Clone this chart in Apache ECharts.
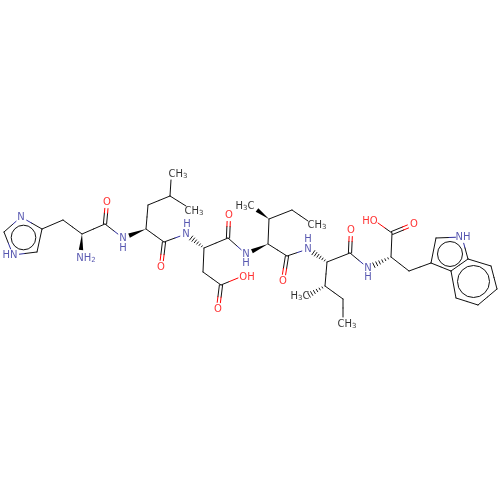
<!DOCTYPE html>
<html><head><meta charset="utf-8">
<style>html,body{margin:0;padding:0;background:#fff}#c{width:500px;height:500px}</style>
<script src="https://cdn.jsdelivr.net/npm/echarts@6/dist/echarts.min.js"></script>
</head><body><div id="c"></div>
<script>
// atom name, x, y
const atomNames = ['Ni','Ci','Nh','Cj','Ck','Cb1','Ca1','N1','C1','O1','Nb2','Ca2','Cb2','Cg2','Me1','Me2','C2','O2','Nb3','Ca3','Cb3','Cg3','Od3','Oh3','C3','O3','Nb4','Ca4','Cb4','Me3','Cg4','Me4','C4','O4','Nb5','Ca5','Cb5','Me5','Cg5','Me6','C5','O5','Nb6','Ca6','C6','O6','Oh6','Cb6','I3','I2','In','I7a','I3a','I4','I5','I6','I7'];
const atomX = [21,4,13,37,42,63,82,81,105,107,123,146,148,170,171,186,164,161,186,204,203,221,218,238,228,229,246,268,269,257,292,308,287,283,308,327,325,309,343,343,350,351,368,391,392,414,378,409,431,436,462,468,451,456,478,497,491];
const atomY = [217,232,255,252,229,220,234,250,224,202,238,229,205,196,180,206,242,267,234,248,272,285,309,278,238,215,254,244,219,210,210,221,256,281,249,262,286,295,299,317,253,230,268,257,233,224,223,271,263,238,237,259,271,298,305,289,266];
// connections between atoms
const singleBonds = [['Ni','Ci'],['Ci','Nh'],['Nh','Cj'],['Cj','Ck'],['Ck','Ni'],['Ck','Cb1'],['Cb1','Ca1'],['Ca1','C1'],['C1','Nb2'],['Ca2','Cb2'],['Cb2','Cg2'],['Cg2','Me1'],['Cg2','Me2'],['Ca2','C2'],['C2','Nb3'],['Ca3','Cb3'],['Cb3','Cg3'],['Cg3','Oh3'],['Ca3','C3'],['C3','Nb4'],['Ca4','Cb4'],['Cb4','Cg4'],['Cg4','Me4'],['Ca4','C4'],['C4','Nb5'],['Ca5','Cb5'],['Cb5','Cg5'],['Cg5','Me6'],['Ca5','C5'],['C5','Nb6'],['Ca6','C6'],['C6','Oh6'],['Ca6','Cb6'],['Cb6','I3'],['I3','I2'],['I2','In'],['In','I7a'],['I7a','I3a'],['I3a','I3'],['I3a','I4'],['I4','I5'],['I5','I6'],['I6','I7'],['I7','I7a']];
const doubleBonds = [['C1','O1'],['C2','O2'],['Cg3','Od3'],['C3','O3'],['C4','O4'],['C5','O5'],['C6','O6']];
const wedgeBonds = [['Ca1','N1'],['Ca2','Nb2'],['Ca4','Nb4'],['Cb4','Me3']];
const hashBonds = [['Ca3','Nb3'],['Ca5','Nb5'],['Cb5','Me5'],['Ca6','Nb6']];
const labelledAtoms = ['Ni','Nh','O1','Nb2','O2','Nb3','Od3','O3','Nb4','O4','Nb5','O5','Nb6','O6','In'];
const heteroBlue = ['Ni','Nh','Nb2','Nb3','Nb4','Nb5','Nb6','In'];
const heteroRed = ['O1','O2','Od3','Oh3','O3','O4','O5','O6','Oh6'];
// aromatic circles: centre x, centre y, radius
const ringCircles = [[23.5,237.5,12.3],[450,254,12.5],[473.5,281.5,16]];
// text, x, y, element
const atomLabels = [
 ['N',21,217,'N'],['HN',10,255,'N'],['NH{s|2}',86,258,'N'],['O',107,202,'O'],['N',123,238,'N'],['H',123,248,'N'],
 ['O',161,267,'O'],['CH{s|3}',178,174,'C'],['CH{s|3}',194,211,'C'],['N',186,234,'N'],['H',187,224,'N'],['O',229,215,'O'],
 ['O',218,309,'O'],['OH',247,277,'O'],['N',246,254,'N'],['H',246,263,'N'],['H{s|3}C',245,206,'C'],['CH{s|3}',317,225,'C'],
 ['O',283,281,'O'],['N',308,249,'N'],['H',308,239,'N'],['H{s|3}C',300,296,'C'],['CH{s|3}',347,324,'C'],['O',351,230,'O'],
 ['N',368,268,'N'],['H',368,277,'N'],['HO',370,221,'O'],['O',414,224,'O'],['NH',463,237,'N']
];
const blue='#2e2e9e', red='#ff0000', ink='#111111';
const idx = n => atomNames.indexOf(n);
const bondRows = [];
singleBonds.forEach(b=>bondRows.push([idx(b[0]),idx(b[1]),0]));
doubleBonds.forEach(b=>bondRows.push([idx(b[0]),idx(b[1]),1]));
wedgeBonds.forEach(b=>bondRows.push([idx(b[0]),idx(b[1]),2]));
hashBonds.forEach(b=>bondRows.push([idx(b[0]),idx(b[1]),3]));
const colorOf = n => heteroBlue.includes(n)?blue:heteroRed.includes(n)?red:ink;
const seg=(a,b,c,w)=>({type:'line',shape:{x1:a[0],y1:a[1],x2:b[0],y2:b[1]},style:{stroke:c,lineWidth:w||1,lineCap:'round'}});
function drawBond(params,api){
  const ia=api.value(3), ib=api.value(4), kind=api.value(5);
  const na=atomNames[ia], nb=atomNames[ib];
  let A=api.coord([atomX[ia],atomY[ia]]), B=api.coord([atomX[ib],atomY[ib]]);
  const dx=B[0]-A[0], dy=B[1]-A[1], L=Math.hypot(dx,dy), ux=dx/L, uy=dy/L, px=-uy, py=ux;
  const M=[(A[0]+B[0])/2,(A[1]+B[1])/2];
  const trim=6.5;
  const a=labelledAtoms.includes(na)?[A[0]+ux*trim,A[1]+uy*trim]:A;
  const b=labelledAtoms.includes(nb)?[B[0]-ux*trim,B[1]-uy*trim]:B;
  const ch=[];
  if(kind===0||kind===1){
    const offs=kind===1?[-1.6,1.6]:[0];
    offs.forEach(o=>{
      const sh=p=>[p[0]+px*o,p[1]+py*o];
      ch.push(seg(sh(a),sh(M),colorOf(na)));
      ch.push(seg(sh(M),sh(b),colorOf(nb)));
    });
  } else if(kind===2){
    const w=2.2;
    ch.push({type:'polygon',shape:{points:[a,[b[0]+px*w,b[1]+py*w],[b[0]-px*w,b[1]-py*w]]},style:{fill:'#000'}});
  } else {
    const n=6, len=Math.hypot(b[0]-a[0],b[1]-a[1]);
    for(let i=1;i<=n;i++){
      const t=i/n*len, h=0.3+2.2*i/n;
      const c=[a[0]+ux*t,a[1]+uy*t];
      ch.push(seg([c[0]+px*h,c[1]+py*h],[c[0]-px*h,c[1]-py*h],'#000',0.9));
    }
  }
  return {type:'group',children:ch};
}
function drawRing(params,api){
  const c=api.coord([api.value(0),api.value(1)]);
  const e=api.coord([api.value(0)+api.value(2),api.value(1)]);
  return {type:'circle',shape:{cx:c[0],cy:c[1],r:e[0]-c[0]},style:{fill:null,stroke:ink,lineWidth:1}};
}
const labelColor={N:blue,O:red,C:'#000'};
// first two columns put each bond's midpoint on the axes, so the library keeps it in view
const bondData = bondRows.map(r=>[(atomX[r[0]]+atomX[r[1]])/2,(atomY[r[0]]+atomY[r[1]])/2,0,r[0],r[1],r[2]]);
const chart=echarts.init(document.getElementById('c'),null,{renderer:'canvas'});
chart.setOption({
  animation:false,backgroundColor:'#fff',
  grid:{left:0,right:0,top:0,bottom:0},
  xAxis:{type:'value',min:0,max:500,show:false},
  yAxis:{type:'value',min:0,max:500,inverse:true,show:false},
  series:[
    {type:'custom',coordinateSystem:'cartesian2d',renderItem:drawBond,data:bondData,silent:true,clip:false},
    {type:'custom',coordinateSystem:'cartesian2d',renderItem:drawRing,data:ringCircles,silent:true,clip:false},
    {type:'scatter',symbolSize:1,itemStyle:{color:'rgba(255,255,255,0)'},silent:true,z:5,
     data:atomLabels.map(l=>({value:[l[1],l[2]],
       label:{show:true,position:'inside',align:'center',verticalAlign:'middle',formatter:l[0],
         fontFamily:'DejaVu Sans',fontSize:10,color:labelColor[l[3]],
         rich:{s:{fontFamily:'DejaVu Sans',fontSize:7,color:labelColor[l[3]],verticalAlign:'bottom',padding:[5,0,0,0]}}}}))}
  ]
});
</script></body></html>
